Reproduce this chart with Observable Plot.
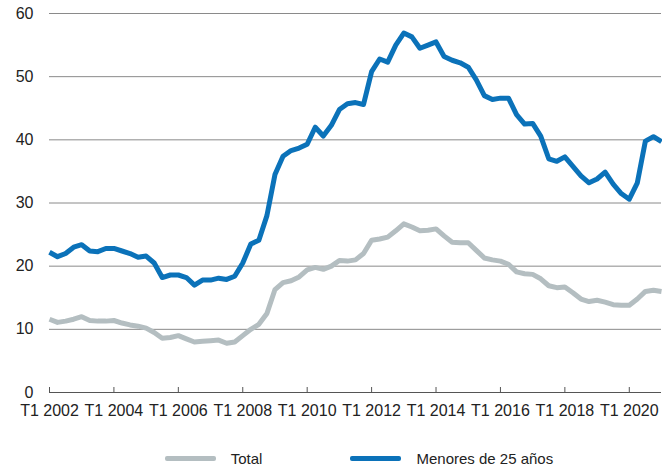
<!DOCTYPE html>
<html>
<head>
<meta charset="utf-8">
<script src="https://cdn.jsdelivr.net/npm/d3@7"></script>
<script src="https://cdn.jsdelivr.net/npm/@observablehq/plot@0.6"></script>
<style>
  html, body { margin: 0; padding: 0; background: #fff; }
  #chart { width: 662px; }
  .legend { display: flex; justify-content: center; align-items: center; height: 40px; margin-top: 14px; padding-left: 56px;
            font-family: "Liberation Sans", Arial, sans-serif; font-size: 15px; color: #222; }
  .item { display: flex; align-items: center; }
  .sw { display: inline-block; width: 51px; height: 5px; border-radius: 2px; margin-right: 15px; }
</style>
</head>
<body>
<div id="chart"></div>
<script>
const startYear = 2002;
const nQuarters = 77;
const quarters = Array.from({length: nQuarters}, (_, i) => `T${i % 4 + 1} ${startYear + Math.floor(i / 4)}`);

const tickLabels = ["T1 2002","T1 2004","T1 2006","T1 2008","T1 2010","T1 2012","T1 2014","T1 2016","T1 2018","T1 2020"];

const total = [
  11.6, 11.1, 11.3, 11.6, 12.0, 11.4, 11.3, 11.3, 11.4, 11.0,
  10.7, 10.5, 10.2, 9.5, 8.6, 8.7, 9.0, 8.5, 8.0, 8.1,
  8.2, 8.3, 7.8, 8.0, 9.0, 10.0, 10.8, 12.5, 16.3, 17.4,
  17.7, 18.3, 19.4, 19.8, 19.5, 20.0, 20.9, 20.8, 21.0, 22.0,
  24.1, 24.3, 24.6, 25.6, 26.7, 26.2, 25.6, 25.7, 25.9, 24.8,
  23.8, 23.7, 23.7, 22.5, 21.3, 21.0, 20.8, 20.3, 19.1, 18.8,
  18.7, 18.0, 16.9, 16.6, 16.7, 15.8, 14.8, 14.4, 14.6, 14.3,
  13.9, 13.8, 13.8, 14.8, 16.0, 16.2, 16.0
];

const menores25 = [
  22.2, 21.5, 22.0, 23.0, 23.4, 22.4, 22.3, 22.8, 22.8, 22.4,
  22.0, 21.4, 21.6, 20.5, 18.2, 18.6, 18.6, 18.2, 17.0, 17.8,
  17.8, 18.1, 17.9, 18.4, 20.5, 23.5, 24.1, 28.0, 34.5, 37.4,
  38.3, 38.7, 39.3, 42.0, 40.6, 42.3, 44.8, 45.7, 45.9, 45.6,
  50.8, 52.8, 52.3, 55.0, 56.9, 56.3, 54.5, 55.0, 55.5, 53.2,
  52.6, 52.2, 51.5, 49.5, 47.0, 46.4, 46.6, 46.6, 44.0, 42.5,
  42.6, 40.6, 37.0, 36.6, 37.3, 35.8, 34.3, 33.2, 33.8, 34.9,
  33.0, 31.5, 30.6, 33.2, 39.8, 40.5, 39.7
];

const yTicks = [0, 10, 20, 30, 40, 50, 60];
const gridTicks = [10, 20, 30, 40, 50, 60];

const rows = [];
quarters.forEach((q, i) => {
  rows.push({i, q, serie: "Total", v: total[i]});
  rows.push({i, q, serie: "Menores de 25 años", v: menores25[i]});
});
const tickIdx = tickLabels.map(l => quarters.indexOf(l));
const labelOf = new Map(tickIdx.map((k, j) => [k, tickLabels[j]]));

const colors = {"Total": "#b4bec1", "Menores de 25 años": "#0b72b9"};

const chart = Plot.plot({
  width: 662,
  height: 424,
  marginLeft: 49,
  marginRight: 1,
  marginTop: 13,
  marginBottom: 32,
  style: {fontFamily: "'Liberation Sans', Arial, sans-serif", fontSize: "16px", color: "#222", background: "#fff"},
  x: {domain: [0, nQuarters - 1]},
  y: {domain: [0, 60]},
  color: {domain: Object.keys(colors), range: Object.values(colors)},
  marks: [
    Plot.gridY(gridTicks, {stroke: "#8a8a8a", strokeOpacity: 1, strokeWidth: 1}),
    Plot.axisY(yTicks, {tickSize: 0, tickPadding: 16, label: null, fontSize: 16}),
    Plot.ruleY([0], {stroke: "#555", strokeWidth: 1.2}),
    Plot.axisX(tickIdx, {tickSize: -5, tickPadding: 0, stroke: "#555", tickFormat: () => "", label: null}),
    Plot.axisX(tickIdx, {tickSize: 0, tickPadding: 12, tickFormat: d => labelOf.get(d), label: null, fontSize: 16}),
    Plot.line(rows.filter(d => d.serie === "Total"), {x: "i", y: "v", stroke: "serie", strokeWidth: 5, strokeLinejoin: "round", strokeLinecap: "butt"}),
    Plot.line(rows.filter(d => d.serie !== "Total"), {x: "i", y: "v", stroke: "serie", strokeWidth: 5, strokeLinejoin: "round", strokeLinecap: "butt"})
  ]
});
document.getElementById("chart").appendChild(chart);

const legend = document.createElement("div");
legend.className = "legend";
Object.entries(colors).forEach(([name, c], k) => {
  const it = document.createElement("div");
  it.className = "item";
  if (k > 0) it.style.marginLeft = "88px";
  const sw = document.createElement("span");
  sw.className = "sw";
  sw.style.background = c;
  const tx = document.createElement("span");
  tx.textContent = name;
  it.appendChild(sw); it.appendChild(tx);
  legend.appendChild(it);
});
document.getElementById("chart").appendChild(legend);
</script>
</body>
</html>
